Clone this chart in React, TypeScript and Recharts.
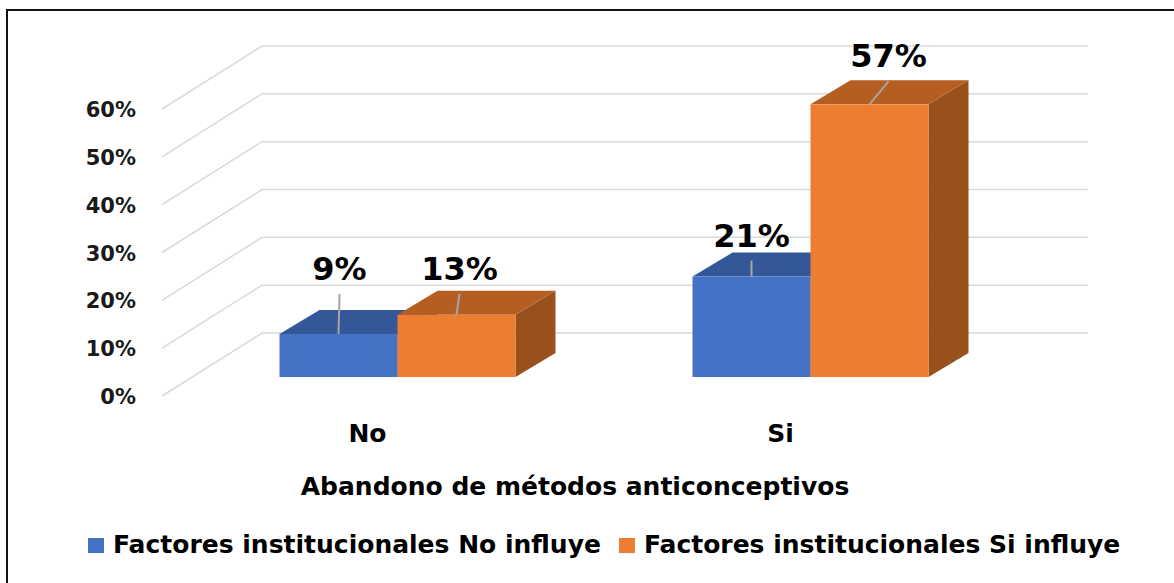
import React from 'react';
import { BarChart, Bar, XAxis, YAxis, CartesianGrid, Legend, LabelList } from 'recharts';

const categories = ['No', 'Si'];
const noInfluye = [9, 21];
const siInfluye = [13, 57];
const yTicks = [0, 10, 20, 30, 40, 50, 60];
const axisTitle = 'Abandono de métodos anticonceptivos';
const seriesNames = ['Factores institucionales No influye', 'Factores institucionales Si influye'];

const data = categories.map((cat, i) => ({ cat, noInfluye: noInfluye[i], siInfluye: siInfluye[i] }));

// fake 3d: where the bar front sits compared with the back wall, and the bar depth
const FRONT_DX = -71.5;
const FRONT_DY = 44;
const DEPTH_X = 40;
const DEPTH_Y = -24;
// floor diagonal from back wall to front edge
const FLOOR_DX = -100;
const FLOOR_DY = 63;

const FONT = '"DejaVu Sans", sans-serif';
const GRID = '#D9D9D9';

const colors = {
  noInfluye: { front: '#4472C4', top: '#345798', side: '#2F5597' },
  siInfluye: { front: '#ED7D31', top: '#B55E22', side: '#98501D' },
};

// data label nudges (dx, rise above the front top edge), per category
const labelNudge: Record<string, number[][]> = {
  noInfluye: [[1, 54], [0, 30]],
  siInfluye: [[3, 35], [19, 37]],
};

const makeShape = (key: 'noInfluye' | 'siInfluye') => (props: any) => {
  const { x, y, width, height } = props;
  const c = colors[key];
  const fx = x + FRONT_DX;
  const fy = y + FRONT_DY;
  const top = `${fx},${fy} ${fx + DEPTH_X},${fy + DEPTH_Y} ${fx + width + DEPTH_X},${fy + DEPTH_Y} ${fx + width},${fy}`;
  const side = `${fx + width},${fy} ${fx + width + DEPTH_X},${fy + DEPTH_Y} ${fx + width + DEPTH_X},${fy + height + DEPTH_Y} ${fx + width},${fy + height}`;
  return (
    <g>
      <polygon points={side} fill={c.side} />
      <polygon points={top} fill={c.top} />
      <rect x={fx} y={fy} width={width} height={height} fill={c.front} />
    </g>
  );
};

const makeLabel = (key: string) => (props: any) => {
  const vb = props.viewBox || props;
  const x = vb.x ?? props.x;
  const y = vb.y ?? props.y;
  const width = vb.width ?? props.width;
  const [dx, rise] = labelNudge[key][props.index] || [0, 35];
  const cx = x + FRONT_DX + width / 2;
  const ty = y + FRONT_DY;
  return (
    <g>
      <line x1={cx + dx} y1={ty - rise + 14} x2={cx} y2={ty} stroke="#A6A6A6" strokeWidth={2} />
      <text x={cx + dx} y={ty - rise} textAnchor="middle" fontFamily={FONT} fontWeight="bold" fontSize={32} fill="#000">
        {`${props.value}%`}
      </text>
    </g>
  );
};

const YTick = (props: any) => {
  const { x, y, payload } = props;
  return (
    <g>
      <line x1={x} y1={y} x2={x + FLOOR_DX} y2={y + FLOOR_DY} stroke={GRID} strokeWidth={1.5} />
      <text x={x + FLOOR_DX - 26} y={y + FLOOR_DY + 8} textAnchor="end" fontFamily={FONT} fontWeight="bold" fontSize={21} fill="#1a1a1a">
        {`${payload.value}%`}
      </text>
    </g>
  );
};

const XTick = (props: any) => {
  const { x, y, payload } = props;
  return (
    <text x={x + FLOOR_DX - 1} y={y + 109} textAnchor="middle" fontFamily={FONT} fontWeight="bold" fontSize={25} fill="#000">
      {payload.value}
    </text>
  );
};

const AxisTitle = (props: any) => {
  const { x, y, width } = props.viewBox;
  return (
    <text x={x + width / 2 + FLOOR_DX} y={y + 162} textAnchor="middle" fontFamily={FONT} fontWeight="bold" fontSize={25} fill="#000">
      {axisTitle}
    </text>
  );
};

const LegendContent = () => (
  <div style={{ display: 'flex', alignItems: 'center', paddingLeft: 88, fontFamily: FONT, fontWeight: 'bold', fontSize: 25, lineHeight: '30px', color: '#000' }}>
    {seriesNames.map((name, i) => (
      <div key={name} style={{ display: 'flex', alignItems: 'center', marginRight: 18 }}>
        <span style={{ width: 16, height: 15, background: i === 0 ? colors.noInfluye.front : colors.siInfluye.front, marginRight: 9, display: 'inline-block' }} />
        <span style={{ whiteSpace: 'nowrap' }}>{name}</span>
      </div>
    ))}
  </div>
);

export default function App() {
  return (
    <div style={{ position: 'absolute', left: 0, top: 0, width: 1174, height: 583, background: '#fff', overflow: 'hidden' }}>
      <div style={{ position: 'absolute', left: 6, top: 9, width: 1200, height: 600, border: '2px solid #111', boxSizing: 'border-box' }} />
      <div style={{ position: 'absolute', left: 0, top: 0 }}>
        <BarChart
          width={1174}
          height={583}
          data={data}
          margin={{ top: 46, right: 86, left: 112, bottom: 150 }}
          barSize={118}
          barGap={0}
        >
          <CartesianGrid vertical={false} stroke={GRID} strokeWidth={1.5} />
          <XAxis
            dataKey="cat"
            axisLine={false}
            tickLine={false}
            tickSize={0}
            tickMargin={0}
            height={100}
            tick={<XTick />}
            label={<AxisTitle />}
          />
          <YAxis
            domain={[0, 60]}
            ticks={yTicks}
            axisLine={false}
            tickLine={false}
            tickSize={0}
            tickMargin={0}
            width={150}
            tick={<YTick />}
          />
          <Legend
            verticalAlign="middle"
            align="center"
            content={<LegendContent />}
            wrapperStyle={{ position: 'absolute', top: 530, left: 0, width: 1174 }}
          />
          <Bar dataKey="noInfluye" name={seriesNames[0]} fill={colors.noInfluye.front} shape={makeShape('noInfluye')} isAnimationActive={false}>
            <LabelList dataKey="noInfluye" content={makeLabel('noInfluye')} />
          </Bar>
          <Bar dataKey="siInfluye" name={seriesNames[1]} fill={colors.siInfluye.front} shape={makeShape('siInfluye')} isAnimationActive={false}>
            <LabelList dataKey="siInfluye" content={makeLabel('siInfluye')} />
          </Bar>
        </BarChart>
      </div>
    </div>
  );
}
